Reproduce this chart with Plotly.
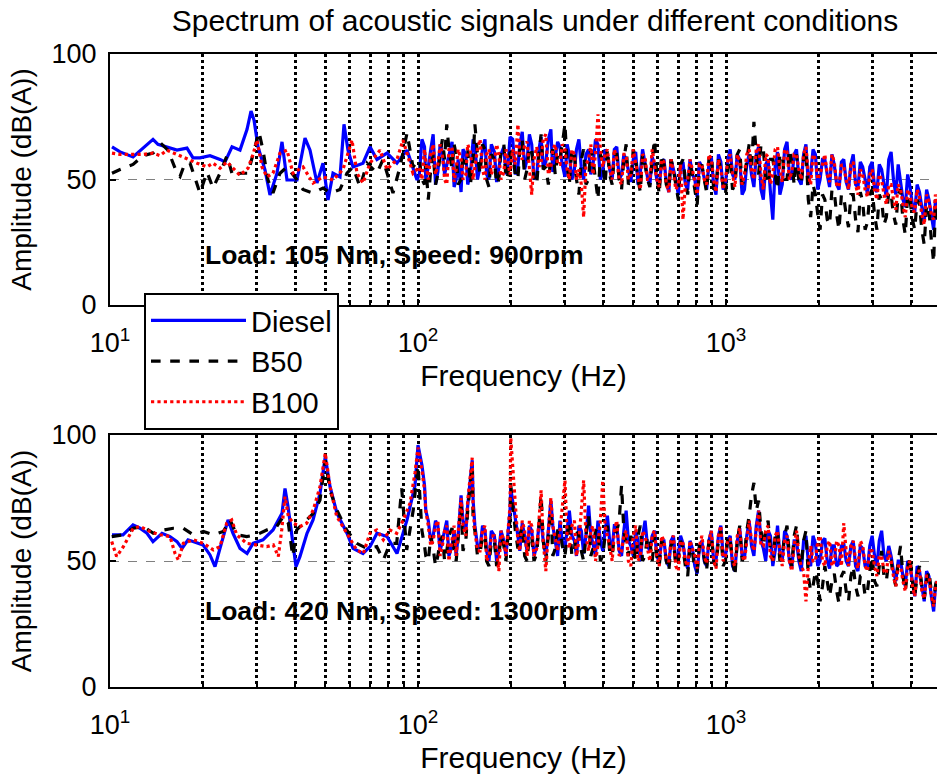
import math
import plotly.graph_objects as go

# ---------------- data ----------------
SERIES = ["Diesel", "B50", "B100"]
COLORS = ["#0000FF", "#000000", "#FF0000"]
DASHES = ["solid", "dash", "dot"]

TICK_VALS = [10, 100, 1000]
TICK_TEXT = ["10<sup>1</sup>", "10<sup>2</sup>", "10<sup>3</sup>"]
MINOR_VALS = [20, 30, 40, 50, 60, 70, 80, 90, 200, 300, 400, 500, 600, 700, 800, 900, 2000, 3000, 4000]
Y_TICKS = [0, 50, 100]

FREQ_HI_TOP = [101, 105, 108, 112, 116, 120, 124, 129, 133, 138, 143, 148, 153, 159, 165, 170, 177, 183, 190, 196,
               203, 211, 218, 226, 234, 243, 251, 260, 270, 279, 289, 300, 310, 322, 333, 345, 358, 370, 384, 398,
               412, 427, 442, 458, 474, 491, 509, 527, 546, 566, 586, 607, 629, 652, 675, 700, 725, 751, 778, 806,
               835, 865, 896, 928, 962, 996, 1032, 1069, 1108, 1148, 1189, 1232, 1276, 1322, 1370, 1419, 1470, 1523,
               1578, 1635, 1694, 1755, 1818, 1883, 1951, 2021, 2094, 2169, 2247, 2328, 2412, 2499, 2589, 2682, 2779,
               2879, 2982, 3090, 3201, 3316, 3436, 3559, 3688, 3820, 3958, 4100, 4248, 4401, 4559, 4723, 4850]
FREQ_HI_BOT = [100, 105, 108, 112, 116, 120, 124, 129, 133, 138, 143, 150, 153, 159, 165, 170, 177, 183, 190, 196,
               200, 211, 218, 226, 234, 243, 251, 260, 270, 279, 289, 300, 310, 322, 333, 345, 358, 370, 384, 398,
               412, 427, 442, 458, 474, 491, 509, 527, 546, 566, 586, 607, 629, 652, 675, 700, 725, 751, 778, 806,
               835, 865, 896, 928, 962, 996, 1032, 1069, 1108, 1148, 1189, 1232, 1276, 1322, 1370, 1419, 1470, 1523,
               1578, 1635, 1694, 1755, 1818, 1883, 1951, 2021, 2094, 2169, 2247, 2328, 2412, 2499, 2589, 2682, 2779,
               2879, 2982, 3090, 3201, 3316, 3436, 3559, 3688, 3820, 3958, 4100, 4248, 4401, 4559, 4723, 4850]
FREQ_MID = [103, 106, 110, 114, 118, 122, 126, 131, 135, 140, 145, 151, 156, 162, 167, 173, 180, 186, 193, 199,
            207, 214, 222, 230, 238, 247, 255, 265, 274, 284, 294, 305, 316, 327, 339, 351, 364, 377, 391, 405,
            419, 434, 450, 466, 482, 500, 518, 536, 556, 576, 596, 618, 640, 663, 687, 712, 738, 764, 792, 820,
            850, 880, 912, 945, 979, 1014, 1050, 1088, 1128, 1168, 1210, 1254, 1299, 1346, 1394, 1444, 1496, 1550,
            1606, 1664, 1724, 1786, 1850, 1917, 1986, 2057, 2131, 2208, 2287, 2370, 2455, 2544, 2635, 2730, 2829,
            2930, 3036, 3145, 3258, 3376, 3497, 3623, 3754, 3889, 4029, 4174, 4324, 4480, 4641, 4786]

# ---- top panel: Load 105 Nm, 900 rpm ----
TOP_DIESEL_F_LO = [10.15, 10.78, 11.88, 12.80, 13.79, 14.31, 15.31, 16.50, 17.78, 18.60, 19.60, 21.12, 22.76, 23.63,
                   24.90, 26.43, 27.86, 28.70, 29.35, 30.24, 31.86, 33.07, 34.85, 36.18, 37.55, 40.47, 42.97, 44.61,
                   46.99, 49.15, 51.04, 52.97, 55.82, 57.51, 59.25, 61.51, 66.28, 69.85, 73.60, 79.32, 85.46, 92.11, 99.27]
TOP_DIESEL_V_LO = [63, 61, 59, 62.5, 66, 64, 63, 61.7, 62.5, 58.6, 58.6, 59.5, 58, 57,
                   63, 61.7, 70, 77.3, 73.7, 63, 53.8, 43.8, 52.5, 65, 49.8, 49.8, 66.5, 61.7,
                   48.6, 56.5, 41.8, 52.5, 51, 72, 61.7, 55, 56.5, 63, 58, 60.5, 56.5, 61.7, 49.8]
TOP_DIESEL_V_HI = [52, 63, 55, 68, 53, 61, 56, 65, 50, 45,
                   60, 52, 64, 55, 66, 50, 61, 54, 63, 56,
                   66, 55, 69, 58, 64, 52, 67, 57, 70, 59,
                   63, 51, 60, 54, 66, 50, 62, 56, 64, 53,
                   60, 50, 63, 52, 58, 49, 61, 53, 57, 48,
                   56, 47, 58, 45, 54, 44, 57, 46, 52, 43,
                   55, 46, 59, 44, 57, 48, 62, 50, 58, 46,
                   60, 47, 63, 42, 58, 34, 61, 48, 65, 50,
                   62, 48, 64, 52, 60, 50, 58, 47, 56, 46,
                   58, 46, 60, 47, 55, 44, 57, 45, 54, 43,
                   61, 44, 50, 39, 47, 37, 45, 33, 42, 30, 38]
TOP_DIESEL_V_MID = [66, 50, 62, 48, 64, 52, 60, 47, 58, 62,
                    48, 66, 50, 62, 52, 64, 49, 60, 52, 67,
                    52, 64, 54, 68, 50, 62, 55, 66, 53, 65,
                    56, 64, 50, 62, 55, 60, 52, 66, 50, 62,
                    54, 62, 50, 60, 54, 58, 48, 62, 51, 59,
                    50, 57, 49, 58, 50, 55, 48, 58, 50, 57,
                    50, 56, 48, 60, 46, 58, 52, 60, 44, 56,
                    52, 60, 46, 56, 45, 55, 44, 62, 52, 60,
                    50, 60, 48, 62, 46, 58, 52, 60, 48, 57,
                    49, 56, 48, 57, 50, 55, 47, 56, 48, 58,
                    50, 56, 42, 52, 40, 48, 38, 46, 36, 42]

TOP_B50_F_LO = [10.15, 10.78, 11.88, 12.80, 13.79, 14.75, 15.43, 16.50, 16.88, 17.52, 18.19, 18.88, 19.60, 20.65,
                21.60, 22.76, 23.99, 25.08, 26.43, 28.06, 29.57, 30.46, 31.38, 32.58, 33.82, 35.64, 37.55, 40.47,
                42.33, 45.62, 49.15, 51.81, 55.82, 58.81, 61.51, 64.81, 68.30, 73.60, 76.98, 82.93, 87.40, 92.11, 96.33]
TOP_B50_V_LO = [52.5, 54, 56, 59.5, 60.5, 64, 61.7, 52.5, 51.2, 56.5, 56.5, 50.5, 44.6, 53,
                46.6, 52.5, 59.5, 51, 52.5, 52.5, 63, 69, 61.7, 49.8, 44.6, 52.5, 55, 49.8,
                46, 44.6, 46.6, 44.6, 46, 52.5, 55, 47, 56.5, 52.5, 58, 44.6, 55, 68.5, 55]
TOP_B50_V_HI = [58, 48, 42, 60, 52, 66, 72, 54, 60, 50,
                56, 48, 72, 52, 62, 47, 58, 50, 64, 52,
                60, 50, 66, 54, 62, 48, 68, 55, 60, 52,
                58, 72, 48, 60, 44, 62, 50, 58, 42, 56,
                62, 48, 60, 46, 64, 50, 58, 45, 56, 47,
                66, 44, 56, 46, 54, 42, 58, 44, 52, 40,
                56, 45, 60, 47, 54, 44, 58, 48, 62, 50,
                64, 73, 52, 62, 48, 58, 46, 60, 50, 57,
                60, 48, 62, 35, 44, 30, 42, 32, 45, 30,
                43, 31, 44, 29, 41, 33, 46, 30, 42, 35,
                44, 32, 46, 28, 42, 30, 40, 24, 38, 17, 34]
TOP_B50_V_MID = [50, 56, 54, 48, 60, 58, 62, 64, 48, 60,
                 62, 58, 60, 64, 50, 60, 48, 62, 50, 61,
                 52, 62, 50, 63, 51, 60, 54, 48, 62, 60,
                 64, 56, 62, 50, 58, 48, 62, 50, 60, 48,
                 52, 60, 50, 58, 48, 62, 50, 60, 50, 58,
                 52, 60, 48, 58, 48, 56, 50, 56, 46, 54,
                 50, 58, 46, 58, 48, 56, 46, 60, 48, 58,
                 54, 60, 64, 50, 58, 52, 60, 50, 62, 48,
                 50, 58, 42, 48, 36, 44, 34, 46, 36, 44,
                 36, 44, 34, 45, 30, 44, 36, 44, 32, 45,
                 36, 44, 34, 44, 34, 42, 30, 40, 26, 40]

TOP_B100_F_LO = [10.15, 10.78, 11.88, 12.80, 13.79, 14.53, 15.31, 16.50, 17.78, 19.17, 20.65, 21.60, 22.76, 23.99,
                 25.08, 26.43, 28.06, 29.13, 30.01, 31.15, 32.34, 33.82, 35.64, 37.55, 39.28, 42.33, 45.62, 49.15,
                 52.97, 57.08, 61.05, 63.38, 66.28, 69.85, 75.27, 79.32, 85.46, 89.38, 96.33]
TOP_B100_V_LO = [60.5, 60, 60, 60, 60.5, 59.5, 61.7, 60, 58, 56.5, 55, 56.5, 54.5, 57,
                 54.5, 51.7, 54.5, 60, 65.7, 55, 51, 52.5, 60.5, 61.7, 52.5, 55, 48.6, 51,
                 49.8, 54, 65.7, 52.5, 48.6, 56.5, 61.7, 54, 58, 65.7, 52.5]
TOP_B100_V_HI = [55, 62, 50, 64, 56, 60, 48, 63, 54, 58,
                 52, 61, 55, 66, 50, 62, 56, 60, 53, 57,
                 62, 72, 58, 65, 44, 63, 57, 68, 55, 64,
                 56, 62, 50, 60, 54, 35, 58, 52, 76, 55,
                 62, 50, 58, 48, 60, 52, 57, 46, 59, 50,
                 55, 47, 57, 45, 53, 48, 34, 50, 54, 44,
                 56, 48, 58, 45, 54, 50, 60, 47, 57, 52,
                 62, 50, 64, 46, 59, 52, 63, 49, 61, 53,
                 60, 50, 63, 48, 58, 52, 60, 49, 57, 47,
                 55, 46, 57, 44, 52, 43, 54, 42, 50, 40,
                 48, 38, 46, 35, 44, 37, 43, 32, 41, 34, 38]
TOP_B100_V_MID = [50, 57, 60, 52, 64, 50, 62, 49, 62, 50,
                  64, 50, 62, 54, 60, 52, 64, 50, 62, 52,
                  56, 60, 64, 54, 58, 55, 66, 52, 62, 56,
                  64, 54, 62, 50, 48, 56, 64, 60, 62, 60,
                  54, 62, 50, 60, 50, 62, 52, 60, 50, 62,
                  50, 58, 48, 58, 46, 56, 48, 58, 48, 56,
                  50, 60, 50, 58, 46, 58, 52, 60, 48, 60,
                  54, 62, 52, 60, 48, 62, 54, 62, 50, 60,
                  54, 60, 52, 60, 50, 56, 52, 60, 48, 56,
                  50, 56, 48, 54, 46, 52, 46, 52, 44, 48,
                  42, 48, 40, 46, 38, 46, 36, 44, 36, 44]

# ---- bottom panel: Load 420 Nm, 1300 rpm ----
BOT_DIESEL_F_LO = [10.15, 11.02, 11.88, 12.51, 13.19, 13.79, 14.75, 15.66, 16.50, 17.13, 17.92, 19.17, 20.04, 21.12,
                   21.92, 22.76, 24.17, 25.08, 26.43, 27.86, 29.13, 31.38, 33.82, 36.18, 37.00, 37.84, 39.28, 40.17,
                   41.39, 43.62, 45.62, 48.06, 50.0, 51.81, 54.58, 58.81, 61.51, 66.28, 69.85, 73.60, 79.32, 85.46,
                   92.11, 97.79]
BOT_DIESEL_V_LO = [60.4, 60.4, 64.3, 63, 61, 57.7, 61, 59.7, 57.7, 55, 58.4, 57, 56.4, 52.4,
                   47.8, 55, 66.3, 61, 55, 53, 57, 58.4, 62.3, 68.9, 78.8, 71.6, 55.7, 47.8,
                   51.8, 61, 66.3, 76.8, 91.4, 79.5, 68.9, 61, 55, 53, 55.7, 61, 59.7, 53,
                   66.3, 80]
BOT_DIESEL_V_HI = [96, 80, 66, 60, 64, 58, 66, 56, 52, 76,
                   62, 90, 64, 55, 62, 50, 60, 54, 58, 62,
                   79, 60, 65, 54, 62, 56, 66, 52, 74, 58,
                   66, 55, 70, 58, 64, 53, 72, 57, 66, 54,
                   68, 55, 64, 52, 70, 56, 62, 50, 66, 54,
                   62, 50, 58, 48, 60, 52, 57, 47, 55, 45,
                   58, 48, 62, 50, 64, 52, 60, 46, 63, 51,
                   66, 52, 70, 55, 62, 48, 64, 50, 60, 47,
                   58, 46, 60, 48, 57, 50, 59, 47, 56, 49,
                   57, 48, 58, 46, 55, 47, 60, 48, 62, 50,
                   52, 42, 50, 40, 48, 36, 46, 34, 44, 30, 42]
BOT_DIESEL_V_MID = [88, 70, 58, 66, 54, 62, 52, 62, 60, 66,
                    72, 74, 56, 64, 54, 62, 50, 62, 52, 70,
                    68, 54, 60, 64, 52, 64, 58, 62, 64, 52,
                    58, 64, 60, 52, 62, 60, 60, 52, 58, 62,
                    58, 64, 54, 62, 58, 52, 58, 60, 56, 60,
                    52, 58, 50, 58, 50, 60, 50, 58, 48, 56,
                    50, 58, 50, 60, 52, 58, 48, 58, 52, 60,
                    56, 64, 58, 50, 60, 54, 52, 62, 50, 58,
                    50, 58, 50, 60, 48, 58, 50, 56, 48, 56,
                    50, 56, 48, 56, 48, 56, 52, 58, 52, 56,
                    46, 50, 44, 50, 42, 48, 40, 46, 36, 40]

BOT_B50_F_LO = [10.13, 11.05, 11.90, 12.83, 13.82, 14.90, 16.05, 17.30, 18.64, 20.09, 21.65, 23.33, 24.53, 25.78,
                27.79, 29.95, 32.27, 34.78, 36.54, 37.93, 39.20, 40.38, 42.43, 45.72, 48.06, 50.0, 51.81, 54.45,
                58.68, 63.24, 68.15, 73.43, 77.17, 81.11, 85.27, 88.52, 91.91, 96.54]
BOT_B50_V_LO = [59.7, 60.4, 63, 63.7, 61, 62.3, 63, 63, 60.4, 61.7, 60.4, 61.7, 66.3, 60.4,
                59.7, 60.4, 62.3, 63.7, 67.7, 65, 51.8, 62.3, 65, 68.9, 74.2, 90, 78, 70.3,
                62.3, 57, 55, 55.7, 50.4, 57, 57, 78.8, 54.4, 70.3]
BOT_B50_V_HI = [88, 56, 50, 55, 52, 60, 54, 63, 50, 72,
                58, 88, 62, 53, 60, 48, 58, 52, 56, 60,
                80, 55, 64, 50, 60, 53, 76, 50, 70, 55,
                62, 52, 66, 54, 60, 50, 68, 55, 63, 52,
                64, 52, 62, 80, 56, 60, 50, 64, 52, 58,
                60, 48, 56, 46, 58, 50, 55, 44, 54, 46,
                56, 46, 60, 48, 62, 50, 58, 44, 64, 52,
                68, 81, 74, 56, 66, 50, 62, 52, 64, 48,
                64, 48, 62, 38, 46, 34, 48, 36, 45, 33,
                46, 34, 48, 36, 44, 38, 52, 40, 54, 42,
                50, 40, 56, 38, 52, 36, 48, 35, 46, 33, 44]
BOT_B50_V_MID = [62, 52, 60, 48, 58, 50, 60, 54, 60, 54,
                 70, 66, 52, 60, 50, 58, 48, 60, 50, 66,
                 62, 60, 52, 60, 50, 64, 58, 60, 52, 62,
                 56, 60, 52, 62, 54, 60, 52, 62, 50, 60,
                 54, 60, 66, 62, 52, 56, 60, 50, 60, 50,
                 52, 58, 50, 56, 48, 58, 48, 56, 46, 56,
                 50, 58, 50, 58, 48, 60, 50, 58, 50, 62,
                 76, 70, 62, 62, 54, 60, 50, 60, 52, 60,
                 52, 58, 44, 40, 42, 40, 42, 42, 38, 44,
                 38, 44, 40, 44, 36, 46, 42, 48, 44, 50,
                 44, 50, 44, 46, 42, 44, 40, 42, 38, 40]

BOT_B100_F_LO = [10.13, 10.51, 11.05, 11.90, 12.51, 13.49, 14.53, 15.66, 16.26, 16.67, 17.30, 18.64, 20.09, 21.65,
                 22.76, 23.93, 24.84, 25.78, 27.79, 29.95, 32.27, 33.90, 35.19, 36.10, 37.00, 37.93, 39.37, 41.39,
                 43.52, 45.72, 48.06, 50.0, 51.81, 54.45, 58.68, 63.24, 66.43, 69.85, 73.43, 77.17, 81.11, 85.27,
                 89.62, 94.19, 97.79]
BOT_B100_V_LO = [57.7, 51.8, 55.7, 63, 63.7, 61.7, 60.4, 59.7, 53, 50.4, 57, 58.4, 57, 54.4,
                 55.7, 65, 66.3, 60.4, 57, 56.4, 55.7, 56.4, 51.8, 62.3, 75.5, 67.7, 65, 63.7,
                 65, 70.3, 79.5, 92.8, 79.5, 67.7, 61, 54.4, 53, 61, 62.3, 58.4, 62.3, 61,
                 66.3, 72.9, 85]
BOT_B100_V_HI = [95, 78, 64, 58, 66, 56, 64, 58, 52, 75,
                 60, 91, 62, 54, 64, 52, 60, 46, 58, 62,
                 99, 58, 66, 52, 64, 55, 78, 46, 75, 58,
                 62, 82, 55, 66, 58, 82, 54, 64, 56, 82,
                 60, 50, 66, 54, 62, 48, 64, 52, 60, 50,
                 62, 48, 58, 50, 60, 46, 57, 48, 55, 47,
                 60, 49, 62, 47, 64, 52, 59, 48, 63, 50,
                 66, 54, 70, 56, 64, 50, 62, 48, 60, 46,
                 62, 48, 34, 56, 50, 60, 48, 58, 50, 56,
                 65, 48, 58, 47, 56, 46, 54, 44, 52, 45,
                 50, 40, 48, 38, 50, 36, 46, 35, 44, 32, 42]
BOT_B100_V_MID = [86, 70, 56, 64, 52, 62, 50, 64, 60, 64,
                  74, 70, 54, 62, 50, 60, 54, 62, 52, 72,
                  70, 54, 62, 66, 52, 66, 58, 62, 64, 54,
                  72, 60, 64, 52, 70, 60, 62, 50, 66, 64,
                  56, 62, 52, 60, 50, 60, 50, 62, 54, 60,
                  52, 60, 50, 58, 48, 58, 50, 58, 52, 56,
                  52, 58, 50, 60, 50, 58, 50, 60, 52, 58,
                  58, 62, 56, 62, 52, 60, 54, 58, 50, 56,
                  52, 46, 48, 50, 58, 50, 56, 48, 58, 48,
                  54, 56, 50, 58, 48, 54, 48, 52, 46, 54,
                  44, 48, 42, 48, 40, 46, 38, 44, 36, 40]

TITLE = "Spectrum of acoustic signals under different conditions"
LABEL_TOP = "Load: 105 Nm, Speed: 900rpm"
LABEL_BOT = "Load: 420 Nm, Speed: 1300rpm"

# ---------------- figure ----------------
FONT = "Liberation Sans, Arial, Helvetica, sans-serif"
W, H = 937, 776
ML, MR, MT, MB = 110, 0, 54, 89
PH = H - MT - MB
TOP_DOM = [(H - MB - 305) / PH, 1.0]
BOT_DOM = [0.0, (H - MB - 435) / PH]

top_sets = [(TOP_DIESEL_F_LO, TOP_DIESEL_V_LO, TOP_DIESEL_V_HI, TOP_DIESEL_V_MID),
            (TOP_B50_F_LO, TOP_B50_V_LO, TOP_B50_V_HI, TOP_B50_V_MID),
            (TOP_B100_F_LO, TOP_B100_V_LO, TOP_B100_V_HI, TOP_B100_V_MID)]
bot_sets = [(BOT_DIESEL_F_LO, BOT_DIESEL_V_LO, BOT_DIESEL_V_HI, BOT_DIESEL_V_MID),
            (BOT_B50_F_LO, BOT_B50_V_LO, BOT_B50_V_HI, BOT_B50_V_MID),
            (BOT_B100_F_LO, BOT_B100_V_LO, BOT_B100_V_HI, BOT_B100_V_MID)]


def merged(flo, vlo, fhi, vhi, vmid):
    pts = sorted(zip(flo + fhi + FREQ_MID, vlo + vhi + vmid))
    return [p[0] for p in pts], [p[1] for p in pts]


fig = go.Figure()
for i, (flo, vlo, vhi, vmid) in enumerate(top_sets):
    xs, ys = merged(flo, vlo, FREQ_HI_TOP, vhi, vmid)
    fig.add_trace(go.Scatter(x=xs, y=ys, mode="lines", name=SERIES[i],
                             line=dict(color=COLORS[i], dash=DASHES[i], width=3.2),
                             xaxis="x", yaxis="y", showlegend=True))
for i, (flo, vlo, vhi, vmid) in enumerate(bot_sets):
    xs, ys = merged(flo, vlo, FREQ_HI_BOT, vhi, vmid)
    fig.add_trace(go.Scatter(x=xs, y=ys, mode="lines", name=SERIES[i],
                             line=dict(color=COLORS[i], dash=DASHES[i], width=3.2),
                             xaxis="x2", yaxis="y2", showlegend=False))

x_right = 3 + (937 - 726) / 308.0


def xaxis_cfg(anchor):
    return dict(type="log", range=[1, x_right], domain=[0, 1], anchor=anchor,
                showline=True, linecolor="black", linewidth=2, mirror=True,
                ticks="inside", ticklen=6, tickwidth=1.5, tickcolor="black",
                tickmode="array", tickvals=TICK_VALS, ticktext=TICK_TEXT,
                tickfont=dict(size=27, color="black", family=FONT),
                ticklabelstandoff=13,
                showgrid=True, gridcolor="black", gridwidth=2.5, griddash="dot",
                minor=dict(tickmode="array", tickvals=MINOR_VALS, ticks="inside", ticklen=4,
                           tickcolor="black", showgrid=True, gridcolor="black", gridwidth=2.5,
                           griddash="dot"),
                zeroline=False, automargin=False,
                title=dict(text="Frequency (Hz)", font=dict(size=30, color="black", family=FONT),
                           standoff=8))


def yaxis_cfg(anchor, dom):
    return dict(range=[0, 100], domain=dom, anchor=anchor,
                showline=True, linecolor="black", linewidth=2, mirror=False,
                ticks="inside", ticklen=6, tickwidth=1.5, tickcolor="black",
                tickmode="array", tickvals=Y_TICKS,
                tickfont=dict(size=27, color="black", family=FONT),
                ticklabelstandoff=6,
                showgrid=True, gridcolor="#808080", gridwidth=1, griddash="dash",
                zeroline=False, automargin=False,
                title=dict(text="Amplitude (dB(A))", font=dict(size=28, color="black", family=FONT),
                           standoff=12))


fig.update_layout(
    width=W, height=H,
    margin=dict(l=ML, r=MR, t=MT, b=MB),
    paper_bgcolor="white", plot_bgcolor="white",
    font=dict(family=FONT, color="black"),
    xaxis=xaxis_cfg("y"), yaxis=yaxis_cfg("x", TOP_DOM),
    xaxis2=xaxis_cfg("y2"), yaxis2=yaxis_cfg("x2", BOT_DOM),
    title=dict(text=TITLE, x=(535 - ML) / (W - ML), xref="paper", xanchor="center",
               y=1 - 20 / H, yref="container", yanchor="middle",
               font=dict(size=30, color="black", family=FONT)),
    legend=dict(x=(144 - ML) / (W - ML), y=(H - MB - 293) / PH, xanchor="left", yanchor="top",
                bgcolor="white", bordercolor="black", borderwidth=2,
                font=dict(size=29, color="black", family=FONT), itemwidth=95, tracegroupgap=0),
    annotations=[
        dict(text="<b>" + LABEL_TOP + "</b>", x=math.log10(20), y=20, xref="x", yref="y",
             xanchor="left", yanchor="middle", showarrow=False,
             font=dict(size=26.5, color="black", family=FONT)),
        dict(text="<b>" + LABEL_BOT + "</b>", x=math.log10(20), y=30, xref="x2", yref="y2",
             xanchor="left", yanchor="middle", showarrow=False,
             font=dict(size=26.5, color="black", family=FONT)),
    ],
)

fig.write_html("out.html")
